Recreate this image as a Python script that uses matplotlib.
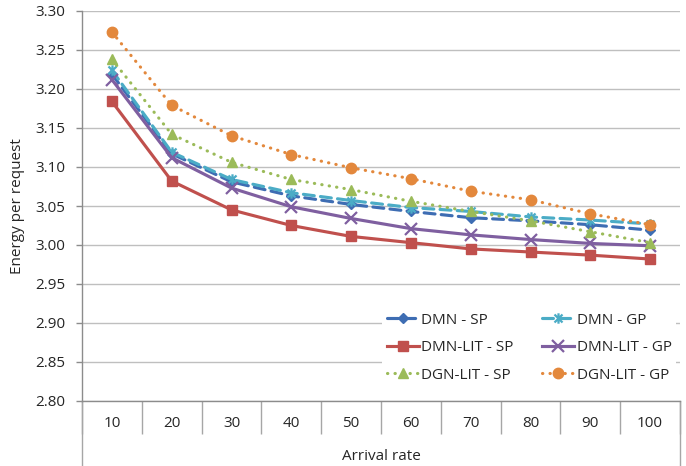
import matplotlib as mpl
import matplotlib.pyplot as plt
from matplotlib.path import Path

# Energy per request for each arrival rate and scheme.
arrival_rate = [10, 20, 30, 40, 50, 60, 70, 80, 90, 100]
dmn_sp = [3.219, 3.117, 3.081, 3.063, 3.052, 3.043, 3.035, 3.031, 3.026, 3.019]
dmn_gp = [3.224, 3.119, 3.084, 3.067, 3.057, 3.048, 3.043, 3.036, 3.032, 3.027]
dmn_lit_sp = [3.184, 3.082, 3.045, 3.025, 3.011, 3.003, 2.995, 2.991, 2.987, 2.982]
dmn_lit_gp = [3.212, 3.112, 3.073, 3.049, 3.034, 3.021, 3.013, 3.007, 3.002, 2.999]
dgn_lit_sp = [3.238, 3.142, 3.106, 3.084, 3.071, 3.056, 3.043, 3.031, 3.017, 3.003]
dgn_lit_gp = [3.273, 3.179, 3.140, 3.116, 3.099, 3.085, 3.069, 3.058, 3.040, 3.026]
y_ticks = [2.80, 2.85, 2.90, 2.95, 3.00, 3.05, 3.10, 3.15, 3.20, 3.25, 3.30]

plt.rcParams['font.family'] = ['Open Sans', 'DejaVu Sans']
plt.rcParams['font.size'] = 11
text_color = '#262626'
axis_color = '#8C8C8C'

# Excel style asterisk: an x with a vertical bar through it.
asterisk = Path([(-1, -1), (1, 1), (-1, 1), (1, -1), (0, -1.3), (0, 1.3)],
                [Path.MOVETO, Path.LINETO, Path.MOVETO, Path.LINETO,
                 Path.MOVETO, Path.LINETO])

dash = (0, (3.5, 2))
dots = (0, (0.1, 2.3))
series = [
    (dmn_sp, 'DMN - SP', '#3E6DB3', dash, 'D', 5),
    (dmn_gp, 'DMN - GP', '#4BACC6', dash, asterisk, 7.5),
    (dmn_lit_sp, 'DMN-LIT - SP', '#C0504D', '-', 's', 6.5),
    (dmn_lit_gp, 'DMN-LIT - GP', '#7F5FA0', '-', 'x', 8),
    (dgn_lit_sp, 'DGN-LIT - SP', '#9BBB59', dots, '^', 7.5),
    (dgn_lit_gp, 'DGN-LIT - GP', '#E3883C', dots, 'o', 7.5),
]

fig = plt.figure(figsize=(6.86, 4.66), dpi=100)
ax = fig.add_axes([82 / 686, 1 - 401 / 466, 598 / 686, 390 / 466])

x = list(range(1, len(arrival_rate) + 1))
lines = []
for values, label, color, ls, marker, ms in series:
    ln, = ax.plot(x, values, color=color, linestyle=ls, linewidth=2.25,
                  dash_capstyle='round', marker=marker, markersize=ms,
                  markerfacecolor=color, markeredgecolor=color,
                  markeredgewidth=1.6 if marker in ('x', asterisk) else 1,
                  label=label, clip_on=False, zorder=3)
    lines.append(ln)

ax.set_xlim(0.5, 10.5)
ax.set_ylim(2.80, 3.30)
ax.set_yticks(y_ticks)
ax.set_yticklabels(['%.2f' % v for v in y_ticks])
ax.grid(axis='y', color='#BFBFBF', linewidth=1.0)
ax.set_axisbelow(True)

# Category labels sit between divider ticks.
ax.set_xticks([i + 0.5 for i in range(0, 11)])
ax.set_xticklabels([])
ax.set_xticks(x, minor=True)
ax.set_xticklabels([str(v) for v in arrival_rate], minor=True)
ax.tick_params(axis='x', which='major', length=24, width=1, color='#A6A6A6',
               direction='out')
ax.tick_params(axis='x', which='minor', length=0, pad=11, colors=text_color,
               labelsize=11)
ax.tick_params(axis='y', length=4, width=1, pad=8, colors=text_color,
               labelsize=11)
ax.tick_params(axis='y', color=axis_color)

for side in ['top', 'right']:
    ax.spines[side].set_visible(False)
ax.spines['left'].set_color(axis_color)
ax.spines['bottom'].set_color(axis_color)
ax.spines['left'].set_linewidth(1)
ax.spines['bottom'].set_linewidth(1)

# Outer edges of the category axis run down to the bottom.
for xe in [0, 1]:
    ax.plot([xe, xe], [0, -0.165], transform=ax.transAxes, color='#A6A6A6',
            linewidth=1, clip_on=False)

ax.set_xlabel('Arrival rate', color=text_color, fontsize=11)
ax.xaxis.set_label_coords(0.5, -(457 - 401) / 390)
ax.xaxis.label.set_va('center')
fig.text(18 / 686, 1 - 206 / 466, 'Energy per request', rotation=90,
         ha='center', va='center', color=text_color, fontsize=11)

# Legend entries run across the rows, two per row.
order = [0, 2, 4, 1, 3, 5]
leg = ax.legend([lines[i] for i in order], [series[i][1] for i in order],
                ncol=2, loc='upper left',
                bbox_to_anchor=(382 / 686, 1 - 308 / 466),
                bbox_transform=fig.transFigure, frameon=True,
                fancybox=False, edgecolor='none', facecolor='white',
                framealpha=1, handlelength=2.1, handletextpad=0.15,
                columnspacing=1.9, labelspacing=0.82, borderpad=0.3,
                borderaxespad=0, fontsize=11)
for t in leg.get_texts():
    t.set_color(text_color)
leg.set_zorder(5)

plt.savefig('out.png', dpi=100)
